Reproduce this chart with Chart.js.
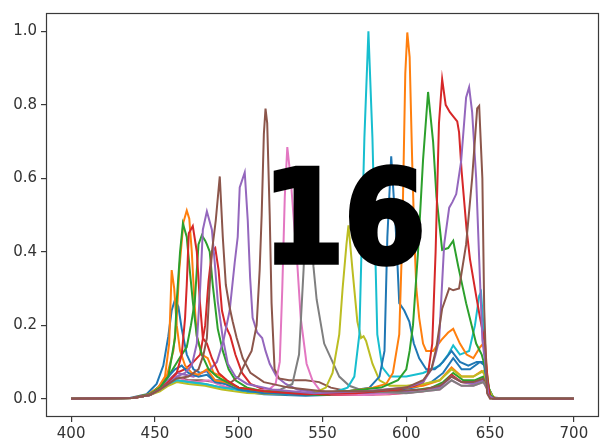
<!DOCTYPE html>
<html>
<head>
<meta charset="utf-8">
<script src="https://cdn.jsdelivr.net/npm/chart.js@4/dist/chart.umd.min.js"></script>
<style>
  html, body { margin: 0; padding: 0; background: #ffffff; }
  canvas { display: block; }
</style>
</head>
<body>
<canvas id="chart" width="600" height="446"></canvas>
<script>
// Spectral response curves, [wavelength nm, normalised response]
const ch01 = [[400,0],[435,0.002],[445,0.012],[451,0.04],[455,0.09],[458,0.17],[460,0.24],[462,0.27],[464,0.25],[466,0.19],[469,0.12],[473,0.08],[477,0.07],[481,0.075],[485,0.05],[490,0.05],[495,0.03],[502,0.02],[515,0.012],[540,0.008],[565,0.012],[590,0.02],[605,0.03],[615,0.045],[622,0.07],[628,0.11],[633,0.08],[638,0.08],[644,0.1],[647,0.09],[649,0.03],[652,0.003],[660,0],[700,0]];
const ch02 = [[400,0],[436,0.002],[446,0.012],[452,0.03],[457,0.06],[461,0.13],[463,0.22],[464.5,0.35],[467,0.48],[469,0.512],[470.5,0.49],[472,0.4],[473.5,0.27],[475,0.17],[478,0.12],[481.5,0.11],[485,0.07],[490,0.06],[495,0.04],[500,0.03],[510,0.02],[530,0.012],[560,0.015],[590,0.025],[610,0.035],[620,0.05],[627,0.085],[633,0.06],[640,0.06],[645,0.075],[648,0.06],[650,0.01],[654,0],[700,0]];
const ch03 = [[400,0],[437,0.002],[447,0.012],[453,0.035],[458,0.06],[462,0.09],[466,0.12],[469,0.14],[471.5,0.2],[473.8,0.265],[475,0.35],[476,0.42],[478,0.445],[480,0.43],[481,0.42],[482.7,0.4],[484.5,0.31],[487.5,0.19],[490.5,0.13],[494,0.08],[498,0.05],[505,0.03],[520,0.015],[550,0.01],[580,0.012],[600,0.02],[615,0.03],[622,0.045],[628,0.07],[634,0.05],[641,0.05],[646,0.06],[649,0.03],[652,0.002],[700,0]];
const ch04 = [[400,0],[437,0.002],[447,0.01],[453,0.03],[458,0.05],[463,0.07],[468,0.08],[473,0.1],[477,0.12],[480,0.2],[482,0.32],[484,0.4],[486,0.41],[488,0.35],[490,0.24],[492,0.2],[495,0.17],[498,0.12],[502,0.07],[507,0.04],[515,0.025],[530,0.015],[560,0.01],[590,0.012],[610,0.02],[620,0.03],[627,0.065],[633,0.045],[640,0.04],[646,0.05],[649,0.02],[652,0],[700,0]];
const ch05 = [[400,0],[437,0.002],[447,0.01],[453,0.03],[458,0.05],[463,0.07],[468,0.065],[473,0.06],[478,0.07],[483,0.08],[487,0.1],[491,0.16],[494.6,0.24],[497.6,0.37],[499.4,0.44],[500.6,0.575],[503.6,0.616],[505.4,0.485],[506.8,0.33],[508.3,0.22],[511,0.18],[514,0.165],[516,0.13],[518.5,0.095],[522.6,0.06],[528,0.04],[535,0.025],[550,0.015],[580,0.012],[605,0.02],[620,0.03],[627,0.06],[633,0.045],[640,0.04],[646,0.05],[649,0.02],[652,0],[700,0]];
const ch06 = [[400,0],[437,0.002],[447,0.01],[453,0.025],[458,0.045],[463,0.06],[470,0.05],[478,0.05],[486,0.045],[494,0.04],[500,0.06],[504.8,0.105],[507.7,0.13],[510.7,0.2],[512.5,0.35],[513.7,0.5],[515,0.72],[516,0.79],[517,0.75],[518.5,0.5],[519.6,0.26],[521.4,0.08],[524,0.055],[530,0.05],[540,0.05],[548,0.045],[555,0.03],[565,0.02],[590,0.02],[610,0.025],[620,0.035],[627,0.06],[633,0.045],[640,0.045],[646,0.055],[649,0.02],[652,0],[700,0]];
const ch07 = [[400,0],[437,0.002],[447,0.01],[453,0.025],[458,0.045],[463,0.06],[468,0.05],[475,0.045],[482,0.05],[490,0.035],[500,0.025],[510,0.02],[518,0.025],[522,0.04],[524.5,0.1],[526,0.3],[527.5,0.55],[529,0.685],[531,0.6],[533,0.48],[534.5,0.4],[537,0.22],[540.5,0.095],[544,0.05],[548,0.025],[555,0.012],[575,0.01],[600,0.015],[620,0.025],[627,0.05],[633,0.035],[640,0.035],[646,0.045],[649,0.02],[652,0],[700,0]];
const ch08 = [[400,0],[437,0.002],[447,0.01],[453,0.025],[458,0.04],[463,0.05],[470,0.045],[480,0.04],[490,0.03],[500,0.025],[515,0.02],[525,0.025],[532,0.04],[536,0.12],[538.7,0.35],[540,0.5],[541.5,0.58],[543,0.5],[544.6,0.36],[546.5,0.27],[548,0.23],[551,0.15],[556,0.1],[560,0.06],[566,0.035],[575,0.02],[600,0.015],[620,0.025],[627,0.05],[633,0.035],[640,0.035],[646,0.045],[649,0.02],[652,0],[700,0]];
const ch09 = [[400,0],[437,0.002],[447,0.01],[453,0.02],[458,0.035],[463,0.045],[470,0.04],[480,0.035],[490,0.025],[505,0.015],[525,0.012],[545,0.015],[552,0.03],[556,0.07],[560,0.175],[562,0.3],[564.3,0.42],[565.5,0.472],[567.9,0.35],[570.8,0.21],[573,0.165],[574.5,0.17],[576,0.157],[579.8,0.095],[584,0.05],[590,0.035],[600,0.035],[610,0.04],[620,0.05],[627,0.08],[633,0.06],[640,0.06],[646,0.075],[649,0.03],[652,0],[700,0]];
const ch10 = [[400,0],[437,0.002],[447,0.01],[453,0.025],[458,0.04],[463,0.05],[470,0.045],[480,0.04],[490,0.03],[505,0.02],[530,0.012],[555,0.015],[565,0.03],[569,0.06],[572,0.175],[575,0.71],[577.4,1.0],[579.8,0.71],[582.7,0.175],[585.7,0.085],[590,0.06],[600,0.06],[610,0.07],[620,0.09],[625,0.12],[628,0.145],[632,0.12],[637.5,0.13],[641,0.2],[643.5,0.28],[644.6,0.29],[646,0.2],[647.5,0.07],[649.5,0.01],[652,0],[700,0]];
const ch11 = [[400,0],[437,0.002],[447,0.012],[453,0.03],[458,0.06],[462,0.08],[466,0.09],[470,0.07],[476,0.06],[481,0.065],[486,0.045],[492,0.04],[500,0.025],[515,0.015],[540,0.012],[565,0.02],[578,0.03],[584,0.06],[587,0.13],[588.7,0.44],[591,0.66],[592.5,0.55],[594,0.44],[595.8,0.26],[598.8,0.24],[601.8,0.21],[604.5,0.15],[607.7,0.11],[611.9,0.08],[617,0.08],[622,0.1],[627,0.13],[632,0.1],[637,0.09],[642,0.1],[646,0.1],[648,0.05],[650,0.005],[654,0],[700,0]];
const ch12 = [[400,0],[438,0.002],[447,0.012],[452,0.03],[456,0.06],[458.5,0.15],[460,0.35],[461.5,0.3],[463,0.2],[465,0.13],[468,0.09],[472,0.07],[476,0.065],[481,0.08],[486,0.05],[492,0.045],[500,0.03],[515,0.02],[540,0.015],[565,0.02],[580,0.03],[588,0.04],[592,0.07],[595.8,0.175],[597.6,0.44],[599.4,0.885],[600.6,0.997],[602,0.93],[603.5,0.65],[604.8,0.44],[606,0.3],[607.7,0.22],[610,0.15],[611.9,0.13],[616,0.13],[621,0.16],[625,0.18],[628,0.19],[632,0.15],[636,0.12],[640,0.11],[644,0.14],[646,0.15],[647.5,0.1],[649.5,0.01],[652,0],[700,0]];
const ch13 = [[400,0],[437,0.002],[447,0.012],[453,0.03],[458,0.06],[462,0.165],[463,0.265],[465,0.4],[466.7,0.477],[469,0.44],[470.8,0.35],[472.6,0.265],[475,0.17],[478,0.12],[482,0.08],[487,0.06],[493,0.045],[500,0.03],[515,0.02],[540,0.015],[565,0.02],[585,0.03],[595,0.05],[600,0.08],[602,0.13],[604,0.2],[607,0.4],[610,0.65],[613,0.835],[616,0.7],[618,0.55],[621.4,0.405],[625,0.41],[628,0.43],[631,0.36],[635.7,0.26],[641.7,0.15],[645,0.12],[648,0.07],[650,0.01],[653,0],[700,0]];
const ch14 = [[400,0],[437,0.002],[447,0.01],[453,0.025],[458,0.045],[463,0.07],[466,0.12],[468,0.22],[469,0.31],[470.2,0.45],[472.6,0.47],[475,0.4],[476.8,0.265],[478.6,0.165],[481,0.15],[484,0.11],[488,0.07],[493,0.05],[500,0.03],[515,0.02],[540,0.012],[570,0.015],[595,0.025],[605,0.035],[610,0.045],[613,0.07],[615.5,0.15],[617.5,0.4],[619.5,0.75],[621.4,0.87],[623.5,0.8],[626,0.78],[628.6,0.765],[630.4,0.755],[631.5,0.725],[633,0.62],[636,0.46],[638,0.38],[641.7,0.28],[644,0.22],[647,0.15],[648.5,0.05],[650,0.005],[653,0],[700,0]];
const ch15 = [[400,0],[437,0.002],[447,0.01],[453,0.025],[458,0.04],[463,0.06],[468,0.07],[472,0.09],[475,0.15],[477,0.3],[478.6,0.46],[481,0.51],[484,0.46],[485.7,0.37],[487.5,0.265],[490.5,0.165],[493.5,0.095],[498,0.06],[505,0.04],[520,0.025],[545,0.015],[575,0.02],[600,0.03],[610,0.045],[615,0.08],[617.5,0.12],[619.6,0.16],[622.6,0.42],[625.6,0.52],[627.5,0.535],[629.8,0.557],[632.7,0.645],[635.7,0.82],[637.5,0.848],[639.3,0.78],[641.7,0.6],[643.5,0.38],[645.4,0.16],[647,0.1],[649,0.01],[652,0],[700,0]];
const ch16 = [[400,0],[437,0.002],[447,0.01],[453,0.025],[458,0.04],[463,0.055],[470,0.06],[476,0.08],[479,0.12],[481,0.165],[482.7,0.31],[484,0.4],[486.3,0.485],[488.7,0.605],[490.5,0.44],[492.3,0.31],[494.5,0.25],[496.4,0.21],[498.8,0.165],[502.4,0.11],[507,0.07],[515,0.045],[530,0.03],[550,0.02],[580,0.02],[600,0.03],[610,0.05],[615,0.08],[618,0.14],[621.4,0.245],[625.6,0.3],[628,0.295],[631.5,0.3],[635.7,0.42],[639.3,0.6],[642.3,0.79],[643.5,0.797],[645.4,0.6],[646.5,0.245],[648.2,0.015],[650,0],[700,0]];

const channels = [ch01, ch02, ch03, ch04, ch05, ch06, ch07, ch08, ch09, ch10, ch11, ch12, ch13, ch14, ch15, ch16];
const xTickValues = [400, 450, 500, 550, 600, 650, 700];
const yTickValues = [0.0, 0.2, 0.4, 0.6, 0.8, 1.0];
const badgeText = '16';

// tab10 cycle
const palette = ['#1f77b4', '#ff7f0e', '#2ca02c', '#d62728', '#9467bd',
                 '#8c564b', '#e377c2', '#7f7f7f', '#bcbd22', '#17becf'];

const datasets = channels.map((pts, i) => ({
  label: 'ch' + (i + 1),
  data: pts.map(p => ({ x: p[0], y: p[1] })),
  borderColor: palette[i % palette.length],
  backgroundColor: palette[i % palette.length],
  borderWidth: 2,
  pointRadius: 0,
  tension: 0,
  fill: false,
  order: channels.length - i   // later curves drawn on top
}));

const axisColor = '#3a3a3a';

const framePlugin = {
  id: 'frame',
  beforeDraw(chart) {
    const c = chart.ctx;
    c.save();
    c.fillStyle = '#ffffff';
    c.fillRect(0, 0, chart.width, chart.height);
    c.restore();
  },
  afterDatasetsDraw(chart) {
    const a = chart.chartArea;
    const c = chart.ctx;
    c.save();
    c.strokeStyle = axisColor;
    c.lineWidth = 1.2;
    c.strokeRect(a.left + 0.5, a.top + 0.5, a.right - a.left - 1, a.bottom - a.top - 1);
    c.restore();
  },
  afterDraw(chart) {
    // heavy badge over the plot: bold glyphs thickened with an outline
    const c = chart.ctx;
    c.save();
    c.font = 'bold 140px "DejaVu Sans"';
    c.textBaseline = 'alphabetic';
    c.textAlign = 'left';
    const m = c.measureText(badgeText);
    const t = 6;
    const w = m.actualBoundingBoxLeft + m.actualBoundingBoxRight + t;
    const h = m.actualBoundingBoxAscent + m.actualBoundingBoxDescent + t;
    const box = { l: 273, r: 422, t: 163, b: 267 };
    const sx = (box.r - box.l) / w;
    const sy = (box.b - box.t) / h;
    c.translate(box.l, box.b);
    c.scale(sx, sy);
    const ox = m.actualBoundingBoxLeft + t / 2;
    const oy = -m.actualBoundingBoxDescent - t / 2;
    c.fillStyle = '#000000';
    c.strokeStyle = '#000000';
    c.lineWidth = t;
    c.lineJoin = 'miter';
    c.fillText(badgeText, ox, oy);
    c.strokeText(badgeText, ox, oy);
    c.restore();
  }
};

new Chart(document.getElementById('chart'), {
  type: 'line',
  data: { datasets },
  options: {
    responsive: false,
    animation: false,
    parsing: true,
    layout: { padding: { top: 5, right: 1, left: 0, bottom: 0 } },
    plugins: { legend: { display: false }, tooltip: { enabled: false } },
    scales: {
      x: {
        type: 'linear',
        min: 385,
        max: 715,
        afterBuildTicks: s => { s.ticks = xTickValues.map(v => ({ value: v })); },
        afterFit: s => { s.height = 29; },
        grid: { display: true, drawOnChartArea: false, drawTicks: true, tickLength: 5, tickColor: axisColor, lineWidth: 1.2 },
        border: { display: false },
        ticks: { color: '#333333', font: { family: 'DejaVu Sans', size: 15 }, padding: 3, maxRotation: 0, autoSkip: false,
                 callback: v => String(v) }
      },
      y: {
        type: 'linear',
        min: -0.05,
        max: 1.05,
        afterBuildTicks: s => { s.ticks = yTickValues.map(v => ({ value: v })); },
        afterFit: s => { s.width = 46; },
        grid: { display: true, drawOnChartArea: false, drawTicks: true, tickLength: 5, tickColor: axisColor, lineWidth: 1.2 },
        border: { display: false },
        ticks: { color: '#333333', font: { family: 'DejaVu Sans', size: 15 }, padding: 4, autoSkip: false,
                 callback: v => Number(v).toFixed(1) }
      }
    }
  },
  plugins: [framePlugin]
});
</script>
</body>
</html>
